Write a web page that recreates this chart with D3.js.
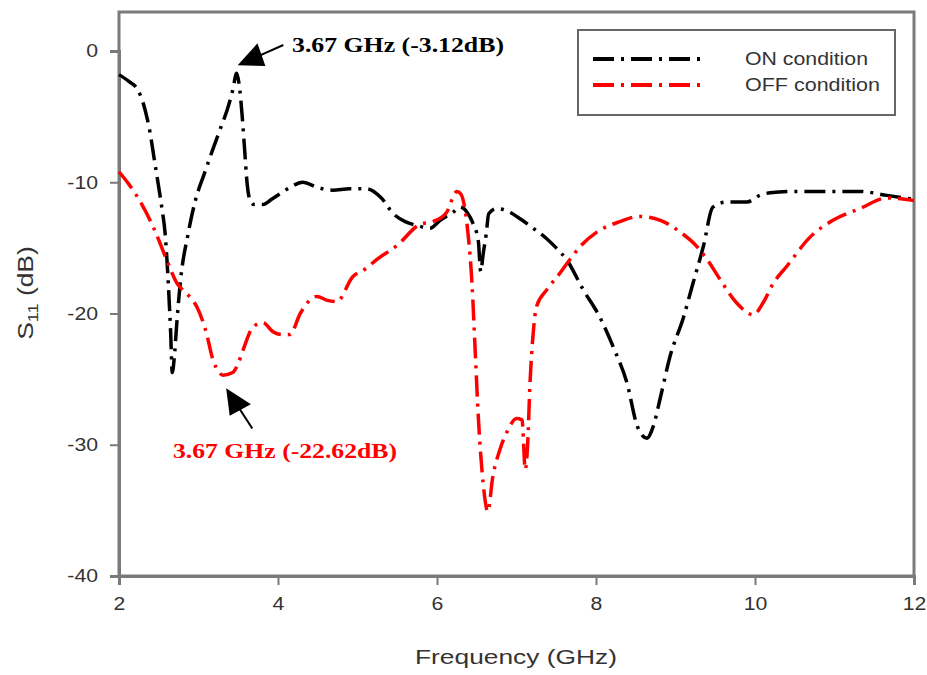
<!DOCTYPE html>
<html>
<head>
<meta charset="utf-8">
<script src="https://cdn.jsdelivr.net/npm/d3@7/dist/d3.min.js"></script>
<style>
  html, body { margin: 0; padding: 0; background: #fff; }
  svg { display: block; }
</style>
</head>
<body>
<svg id="chart" width="927" height="675"></svg>
<script>
// S11 reflection coefficient vs frequency, ON / OFF switch states
const onFreq = [2.00, 2.12, 2.24, 2.32, 2.39, 2.45, 2.49, 2.54, 2.58, 2.62, 2.65, 2.67, 2.70, 2.73, 2.77,
  2.87, 2.96, 3.07, 3.18, 3.27, 3.36, 3.43, 3.48, 3.52, 3.55, 3.58, 3.61, 3.65, 3.70, 3.81, 3.92, 4.02,
  4.15, 4.31, 4.50, 4.69, 4.90, 5.12, 5.30, 5.45, 5.60, 5.75, 5.91, 6.04, 6.20, 6.29, 6.38, 6.45, 6.52,
  6.55, 6.58, 6.62, 6.65, 6.75, 6.92, 7.05, 7.21, 7.38, 7.50, 7.63, 7.84, 8.05, 8.22, 8.39, 8.52, 8.64,
  8.72, 8.81, 8.93, 9.10, 9.22, 9.35, 9.47, 9.65, 9.90, 10.06, 10.19, 10.48, 10.90, 11.32, 11.66, 12.00];
const onS11 = [-1.8, -2.3, -3.0, -4.3, -6.2, -8.5, -10.0, -12.0, -13.9, -17.7, -21.5, -24.5, -23.0, -20.5, -17.7,
  -13.9, -11.4, -9.4, -7.5, -6.0, -4.5, -3.0, -1.7, -3.0, -5.0, -7.5, -10.0, -11.4, -11.7, -11.7, -11.3, -10.9,
  -10.4, -10.0, -10.4, -10.6, -10.5, -10.5, -11.2, -12.4, -13.0, -13.3, -13.5, -12.9, -12.3, -11.9, -12.3, -13.1, -14.5,
  -16.8, -15.5, -13.9, -12.4, -12.0, -12.3, -12.8, -13.5, -14.3, -15.0, -15.9, -18.2, -20.3, -22.6, -25.3, -28.6, -29.5,
  -28.6, -26.4, -23.3, -20.3, -17.7, -14.9, -11.9, -11.5, -11.5, -11.0, -10.8, -10.7, -10.7, -10.7, -11.0, -11.3];

const offFreq = [2.00, 2.13, 2.26, 2.43, 2.60, 2.73, 2.80, 2.90, 2.98, 3.10, 3.18, 3.25, 3.31, 3.43, 3.50,
  3.56, 3.69, 3.81, 3.94, 4.05, 4.15, 4.28, 4.40, 4.49, 4.62, 4.74, 4.94, 5.10, 5.24, 5.50, 5.79, 5.95,
  6.12, 6.25, 6.30, 6.35, 6.39, 6.44, 6.48, 6.52, 6.58, 6.64, 6.70, 6.79, 6.89, 7.00, 7.07, 7.11, 7.14,
  7.17, 7.21, 7.25, 7.38, 7.55, 7.67, 7.80, 8.01, 8.30, 8.55, 8.81, 9.06, 9.27, 9.40, 9.56, 9.77, 9.98,
  10.10, 10.23, 10.40, 10.69, 10.98, 11.32, 11.66, 12.00];
const offS11 = [-9.2, -10.2, -11.4, -13.4, -15.9, -17.7, -18.2, -18.8, -19.5, -21.5, -23.5, -24.4, -24.7, -24.5, -23.8,
  -22.8, -21.0, -20.7, -21.4, -21.6, -21.6, -20.0, -19.0, -18.7, -19.0, -19.1, -17.2, -16.6, -15.9, -14.8, -13.2, -13.0,
  -12.3, -10.7, -10.9, -12.0, -13.9, -17.7, -22.8, -27.9, -32.9, -35.1, -32.5, -30.4, -28.9, -28.0, -28.1, -31.9, -30.0,
  -25.3, -21.5, -19.5, -18.2, -16.9, -15.9, -14.9, -13.8, -13.0, -12.6, -12.9, -13.8, -14.9, -15.9, -17.4, -19.2, -20.1,
  -19.2, -17.7, -16.4, -14.2, -12.9, -12.0, -11.2, -11.4];

const xTicks = [2, 4, 6, 8, 10, 12];
const yTicks = [0, -10, -20, -30, -40];
const seriesNames = ["ON condition", "OFF condition"];
const seriesColors = ["#000000", "#ff0000"];
const onNote = "3.67 GHz (-3.12dB)";
const offNote = "3.67 GHz (-22.62dB)";

const svg = d3.select("#chart");
const plotLeft = 119, plotRight = 914, plotTop = 12, plotBottom = 576;
const x = d3.scaleLinear().domain([2, 12]).range([plotLeft, plotRight]);
const y = d3.scaleLinear().domain([-40, 0]).range([plotBottom, 51]);
const axisColor = "#7a7a7a";
const textColor = "#333";
const dash = "21,7,3,7";
const stretch = 1.18; // text is set slightly wide

function widen(sel, factor) {
  sel.each(function () {
    const w = this.getComputedTextLength();
    d3.select(this).attr("textLength", w * factor).attr("lengthAdjust", "spacingAndGlyphs");
  });
}

// frame
svg.append("rect")
  .attr("x", plotLeft).attr("y", plotTop)
  .attr("width", plotRight - plotLeft).attr("height", plotBottom - plotTop)
  .attr("fill", "none").attr("stroke", axisColor).attr("stroke-width", 3);

// axes
const xAxis = svg.append("g").attr("transform", `translate(0,${plotBottom})`)
  .call(d3.axisBottom(x).tickValues(xTicks).tickSize(9).tickPadding(12).tickFormat(d => String(d)));
const yAxis = svg.append("g").attr("transform", `translate(${plotLeft},0)`)
  .call(d3.axisLeft(y).tickValues(yTicks).tickSize(9).tickPadding(12).tickFormat(d => String(d)));
[xAxis, yAxis].forEach(g => {
  g.select(".domain").attr("stroke", axisColor).attr("stroke-width", 3);
  g.selectAll(".tick line").attr("stroke", axisColor).attr("stroke-width", 2);
  const labels = g.selectAll(".tick text").attr("fill", textColor)
    .attr("font-family", "Liberation Sans, Arial, sans-serif").attr("font-size", 18);
  widen(labels, stretch);
});

// curves
const line = d3.line().x(d => x(d[0])).y(d => y(d[1])).curve(d3.curveMonotoneX);
const onData = onFreq.map((f, i) => [f, onS11[i]]);
const offData = offFreq.map((f, i) => [f, offS11[i]]);
[onData, offData].forEach((data, i) => {
  svg.append("path").datum(data)
    .attr("d", line)
    .attr("fill", "none")
    .attr("stroke", seriesColors[i])
    .attr("stroke-width", 3.5)
    .attr("stroke-dasharray", dash);
});

// annotations
const onPeak = onData.reduce((a, b) => (b[1] > a[1] ? b : a), onData[0]);
const offMin = offData.slice(0, 20).reduce((a, b) => (b[1] < a[1] ? b : a), offData[0]);

function arrow(tipX, tipY, angleDeg, len) {
  const g = svg.append("g").attr("transform", `translate(${tipX},${tipY}) rotate(${angleDeg})`);
  g.append("path").attr("d", "M0,0 L27,-12 L25,12 Z").attr("fill", "#000");
  g.append("line").attr("x1", 22).attr("y1", 0).attr("x2", len).attr("y2", 0)
    .attr("stroke", "#000").attr("stroke-width", 2);
}
// ON peak arrow, pointing down-left to the peak
arrow(x(onPeak[0]) + 1, y(onPeak[1]) - 8, -24, 50);
// OFF minimum arrow, pointing up-left to the dip
arrow(x(offMin[0]) + 3, y(offMin[1]) + 13, 57, 48);

svg.append("text")
  .attr("x", 292).attr("y", 52)
  .attr("font-family", "Liberation Serif, Times New Roman, serif")
  .attr("font-weight", "bold").attr("font-size", 22)
  .attr("textLength", 212).attr("lengthAdjust", "spacingAndGlyphs")
  .attr("fill", "#000").text(onNote);
svg.append("text")
  .attr("x", 173).attr("y", 458)
  .attr("font-family", "Liberation Serif, Times New Roman, serif")
  .attr("font-weight", "bold").attr("font-size", 22)
  .attr("textLength", 224).attr("lengthAdjust", "spacingAndGlyphs")
  .attr("fill", "#ff0000").text(offNote);

// legend
const legend = svg.append("g");
legend.append("rect")
  .attr("x", 578).attr("y", 30).attr("width", 317).attr("height", 85)
  .attr("fill", "#fff").attr("stroke", "#666").attr("stroke-width", 2);
const legendWidths = [123, 135];
seriesNames.forEach((name, i) => {
  const ly = 59 + i * 26;
  legend.append("line")
    .attr("x1", 593).attr("x2", 707).attr("y1", ly).attr("y2", ly)
    .attr("stroke", seriesColors[i]).attr("stroke-width", 4)
    .attr("stroke-dasharray", dash);
  legend.append("text")
    .attr("x", 745).attr("y", ly + 6)
    .attr("font-family", "Liberation Sans, Arial, sans-serif").attr("font-size", 18)
    .attr("textLength", legendWidths[i]).attr("lengthAdjust", "spacingAndGlyphs")
    .attr("fill", textColor).text(name);
});

// axis titles
svg.append("text")
  .attr("x", 516).attr("y", 664).attr("text-anchor", "middle")
  .attr("font-family", "Liberation Sans, Arial, sans-serif").attr("font-size", 21)
  .attr("textLength", 202).attr("lengthAdjust", "spacingAndGlyphs")
  .attr("fill", textColor).text("Frequency (GHz)");

const yTitle = svg.append("text")
  .attr("transform", "translate(33,293) rotate(-90)")
  .attr("text-anchor", "middle")
  .attr("font-family", "Liberation Sans, Arial, sans-serif").attr("font-size", 22)
  .attr("fill", textColor);
yTitle.append("tspan").text("S");
yTitle.append("tspan").attr("font-size", 15).attr("dy", 5).text("11");
yTitle.append("tspan").attr("dy", -5).text(" (dB)");
widen(yTitle, 1.2);
</script>
</body>
</html>
